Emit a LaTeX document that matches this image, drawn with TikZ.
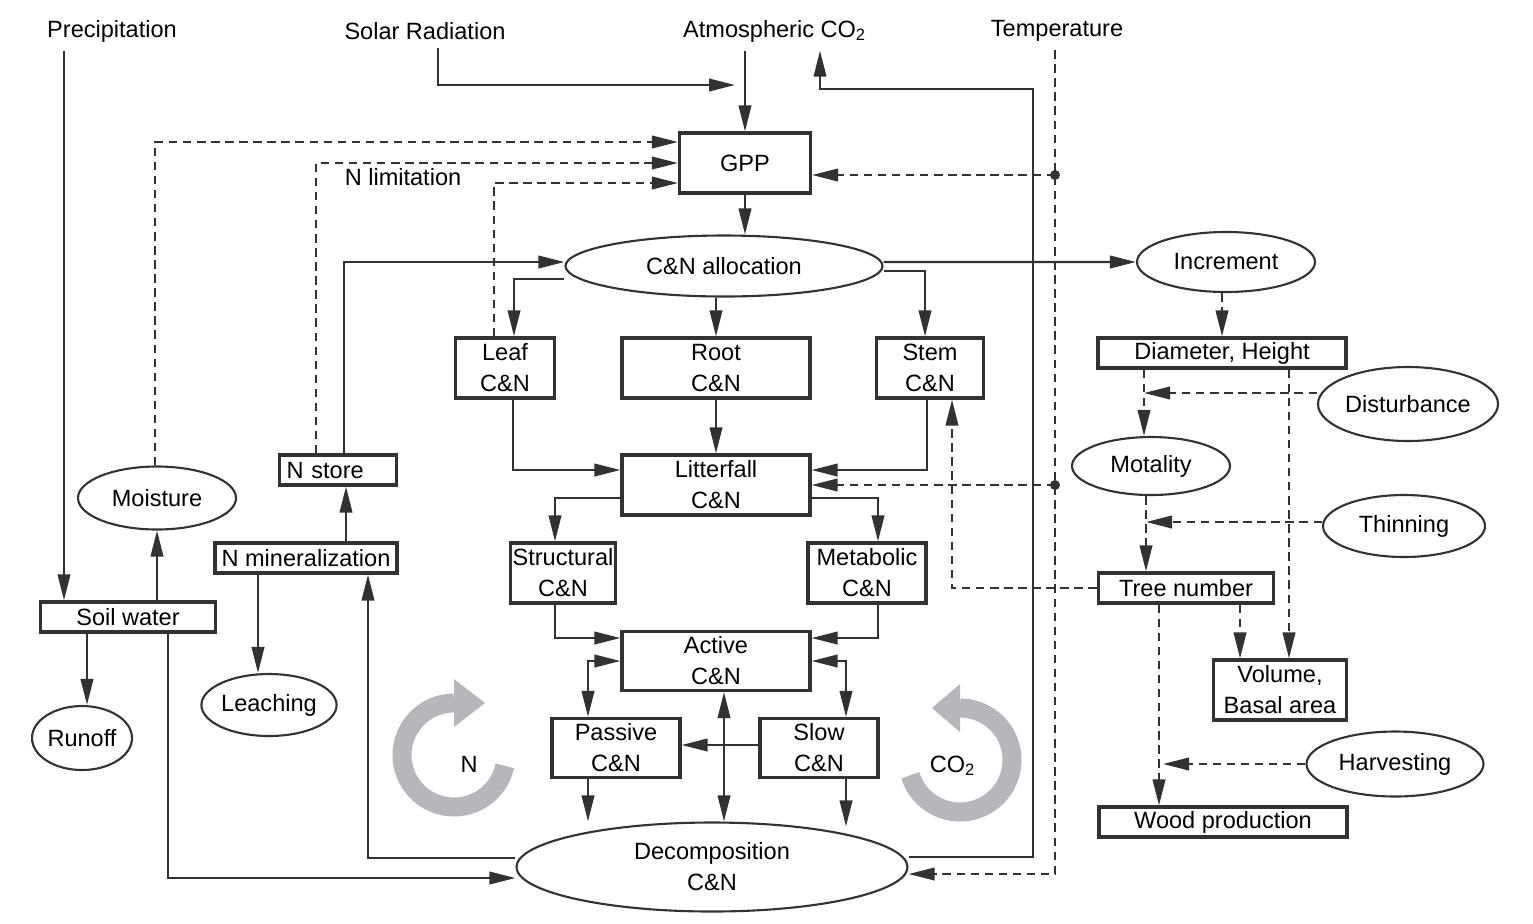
\documentclass[tikz,border=0pt]{standalone}
\usepackage{fontspec}
\setmainfont{Liberation Sans}
\usetikzlibrary{arrows.meta,shapes.geometric}
\definecolor{linegray}{RGB}{50,50,50}
\definecolor{ringgray}{RGB}{181,183,187}

\begin{document}
\begin{tikzpicture}[
    font=\fontsize{6.7pt}{8.8pt}\selectfont,
    >={Triangle[length=2.6mm,width=1.25mm]},
    box/.style={draw=linegray, line width=0.9pt, inner sep=0pt, align=center, minimum height=0.60cm},
    slim/.style={box, minimum height=0.30cm},
    oval/.style={ellipse, draw=linegray, line width=0.6pt, inner sep=0pt, align=center},
    driver/.style={inner sep=0.08cm},
    flow/.style={->, draw=linegray, line width=0.65pt},
    dep/.style={flow, dash pattern=on 2.4pt off 1.6pt},
    cyclearrow/.style={draw=ringgray, line width=0.19cm}
  ]
  \useasboundingbox (0,0) rectangle (15.33,-9.23);

  \node[driver] (prec) at (1.12,-0.31) {Precipitation};
  \node[driver] (solar) at (4.25,-0.31) {Solar Radiation};
  \node[driver] (atmco) at (7.75,-0.31) {Atmospheric CO\textsubscript{2}};
  \node[driver] (temp) at (10.57,-0.31) {Temperature};
  \node[inner sep=0pt] (nlim) at (4.03,-1.77) {N limitation};

  \node[box, minimum width=1.31cm] (gpp) at (7.45,-1.63) {GPP};
  \node[oval, minimum width=3.17cm, minimum height=0.61cm]
    (alloc) at (7.24,-2.66) {C\&N allocation};
  \node[oval, minimum width=1.78cm, minimum height=0.60cm]
    (incr) at (12.26,-2.62) {Increment};

  \node[box, minimum width=0.99cm] (leaf) at (5.05,-3.68) {Leaf\\C\&N};
  \node[box, minimum width=1.88cm] (root) at (7.16,-3.68) {Root\\C\&N};
  \node[box, minimum width=1.07cm] (stem) at (9.30,-3.68) {Stem\\C\&N};

  \node[slim, minimum width=2.48cm] (diam) at (12.22,-3.53) {Diameter, Height};
  \node[oval, minimum width=1.80cm, minimum height=0.74cm]
    (dist) at (14.08,-4.04) {Disturbance};
  \node[oval, minimum width=1.58cm, minimum height=0.58cm]
    (mort) at (11.51,-4.66) {Motality};
  \node[oval, minimum width=1.62cm, minimum height=0.62cm]
    (thin) at (14.04,-5.26) {Thinning};
  \node[slim, minimum width=1.75cm] (treen) at (11.86,-5.88) {Tree number};
  \node[box, minimum width=1.33cm] (vol) at (12.80,-6.90) {Volume,\\Basal area};
  \node[oval, minimum width=1.77cm, minimum height=0.65cm]
    (harv) at (13.95,-7.64) {Harvesting};
  \node[slim, minimum width=2.48cm] (wood) at (12.23,-8.22) {Wood production};

  \node[slim, minimum width=1.17cm, text width=1.03cm, align=left]
    (nstore) at (3.38,-4.70) {N store};
  \node[oval, minimum width=1.58cm, minimum height=0.63cm]
    (moist) at (1.57,-4.98) {Moisture};
  \node[slim, minimum width=1.82cm] (nmin) at (3.06,-5.58) {N mineralization};
  \node[slim, minimum width=1.75cm] (soil) at (1.28,-6.17) {Soil water};
  \node[oval, minimum width=1.00cm, minimum height=0.64cm]
    (runoff) at (0.82,-7.38) {Runoff};
  \node[oval, minimum width=1.34cm, minimum height=0.62cm]
    (leach) at (2.69,-7.05) {Leaching};

  \node[box, minimum width=1.88cm] (litter) at (7.16,-4.85) {Litterfall\\C\&N};
  \node[box, minimum width=1.05cm] (struct) at (5.63,-5.73) {Structural\\C\&N};
  \node[box, minimum width=1.18cm] (metab) at (8.67,-5.73) {Metabolic\\C\&N};
  \node[box, minimum width=1.88cm, minimum height=0.59cm]
    (active) at (7.16,-6.61) {Active\\C\&N};
  \node[box, minimum width=1.28cm, minimum height=0.59cm]
    (passive) at (6.16,-7.48) {Passive\\C\&N};
  \node[box, minimum width=1.18cm, minimum height=0.59cm]
    (slow) at (8.19,-7.48) {Slow\\C\&N};
  \node[oval, minimum width=3.91cm, minimum height=0.89cm]
    (decomp) at (7.12,-8.67) {Decomposition\\C\&N};

  \coordinate (gppin) at (7.35,-0.85);
  \coordinate (tgpp) at ([shift={(-0.02,-0.12)}]temp.south |- gpp.east);
  \coordinate (tlit) at ([xshift=-0.02cm]temp.south |- litter.east);

  % cycles
  \draw[cyclearrow] (4.54,-7.55) ++(-12:0.52) arc[start angle=-12, end angle=-270, radius=0.52];
  \fill[ringgray] (4.54,-6.79) -- (4.85,-7.03) -- (4.54,-7.27) -- cycle;
  \draw[cyclearrow] (9.60,-7.60) ++(-163:0.52) arc[start angle=-163, end angle=90, radius=0.52];
  \fill[ringgray] (9.60,-6.84) -- (9.32,-7.08) -- (9.60,-7.32) -- cycle;
  \node (ntag) at (4.69,-7.64) {N};
  \node (cotag) at (9.53,-7.66) {CO\textsubscript{2}};

  % inputs
  \draw[flow] ([xshift=-0.48cm]prec.south) -- ([xshift=-0.48cm]prec.south |- soil.north);
  \draw[flow] ([xshift=0.13cm]solar.south) |- (gppin);
  \draw[flow] (gpp.north |- atmco.south) -- (gpp.north);
  \draw[flow] ([yshift=0.10cm]decomp.east) -| (10.33,-0.89) -| ([xshift=0.45cm]atmco.south);

  % allocation
  \draw[flow] (gpp) -- (gpp |- alloc.north);
  \draw[flow] ([xshift=0.06cm]nstore.north) |- ([yshift=0.04cm]alloc.west);
  \draw[flow] ([yshift=-0.13cm]alloc.west) -| ([xshift=0.09cm]leaf.north);
  \draw[flow] (root.north |- alloc.south) -- (root.north);
  \draw[flow] ([yshift=-0.05cm]alloc.east) -| ([xshift=-0.05cm]stem.north);
  \draw[flow] ([yshift=0.04cm]alloc.east) -- (incr.west);

  % litter and soil pools
  \draw[flow] ([xshift=0.08cm]leaf.south) |- ([yshift=0.15cm]litter.west);
  \draw[flow] (root) -- (litter);
  \draw[flow] ([xshift=-0.03cm]stem.south) |- ([yshift=0.15cm]litter.east);
  \draw[flow] ([yshift=-0.13cm]litter.west) -| ([xshift=-0.08cm]struct.north);
  \draw[flow] ([yshift=-0.13cm]litter.east) -| ([xshift=0.11cm]metab.north);
  \draw[flow] ([xshift=-0.08cm]struct.south) |- ([yshift=0.23cm]active.west);
  \draw[flow] ([xshift=0.11cm]metab.south) |- ([yshift=0.23cm]active.east);
  \draw[flow, <->] (active.west) -| ([xshift=-0.28cm]passive.north);
  \draw[flow, <->] (active.east) -| ([xshift=0.27cm]slow.north);
  \draw[flow, <->] ([xshift=0.08cm]active.south) -- ([xshift=0.08cm]active.south |- decomp.north);
  \draw[flow] ([yshift=0.03cm]slow.west) -- ([yshift=0.03cm]slow.west -| passive.east);
  \draw[flow] ([xshift=-0.28cm]passive.south) -- ([xshift=-0.28cm]passive.south |- decomp.north);
  \draw[flow] ([xshift=0.27cm]slow.south) -- ([xshift=0.27cm, yshift=-0.05cm]slow.south |- decomp.north);

  % water and nitrogen
  \draw[flow] (soil.north -| moist.south) -- (moist.south);
  \draw[flow] ([xshift=-0.41cm]soil.south) -- ([xshift=-0.41cm]soil.south |- runoff.north);
  \draw[flow] ([xshift=0.40cm]soil.south) |- ([yshift=-0.11cm]decomp.west);
  \draw[flow] ([xshift=0.40cm]nmin.north) -- ([xshift=0.40cm]nmin.north |- nstore.south);
  \draw[flow] ([xshift=-0.48cm]nmin.south) -- ([xshift=-0.48cm]nmin.south |- leach.north);
  \draw[flow] ([yshift=0.09cm]decomp.west) -| ([xshift=0.62cm]nmin.south);

  % controls
  \draw[dep] ([xshift=-0.02cm]moist.north) |- ([yshift=0.21cm]gpp.west);
  \draw[dep] ([xshift=-0.22cm]nstore.north) |- (gpp.west);
  \draw[dep] ([xshift=-0.11cm]leaf.north) |- ([yshift=-0.20cm]gpp.west);
  \draw[dep] ([xshift=-0.02cm]temp.south) |- ([yshift=-0.07cm]decomp.east);
  \draw[dep] (tgpp) -- ([yshift=-0.12cm]gpp.east);
  \draw[dep] (tlit) -- (litter.east);
  \fill[linegray] (tgpp) circle (0.05) (tlit) circle (0.05);

  % stand structure
  \draw[dep] (incr.south -| diam.north) -- (diam.north);
  \draw[dep] ([xshift=-0.07cm]diam.south -| mort.north) -- ([xshift=-0.07cm]mort.north);
  \draw[dep] ([yshift=0.11cm]dist.west) -- ([yshift=0.11cm, xshift=-0.07cm]dist.west -| mort.north);
  \draw[dep] ([xshift=-0.05cm]mort.south) -- ([xshift=-0.05cm]mort.south |- treen.north);
  \draw[dep] ([yshift=0.04cm]thin.west) -- ([yshift=0.04cm, xshift=-0.05cm]thin.west -| mort.south);
  \draw[dep] ([xshift=0.67cm]diam.south) -- ([xshift=0.67cm]diam.south |- vol.north);
  \draw[dep] (treen.west) -| ([xshift=0.22cm]stem.south);
  \draw[dep] ([xshift=0.54cm]treen.south) -- ([xshift=0.54cm]treen.south |- vol.north);
  \draw[dep] ([xshift=-0.27cm]treen.south) -- ([xshift=-0.27cm]treen.south |- wood.north);
  \draw[dep] (harv.west) -- ([xshift=-0.23cm]treen.south |- harv.west);
\end{tikzpicture}
\end{document}
